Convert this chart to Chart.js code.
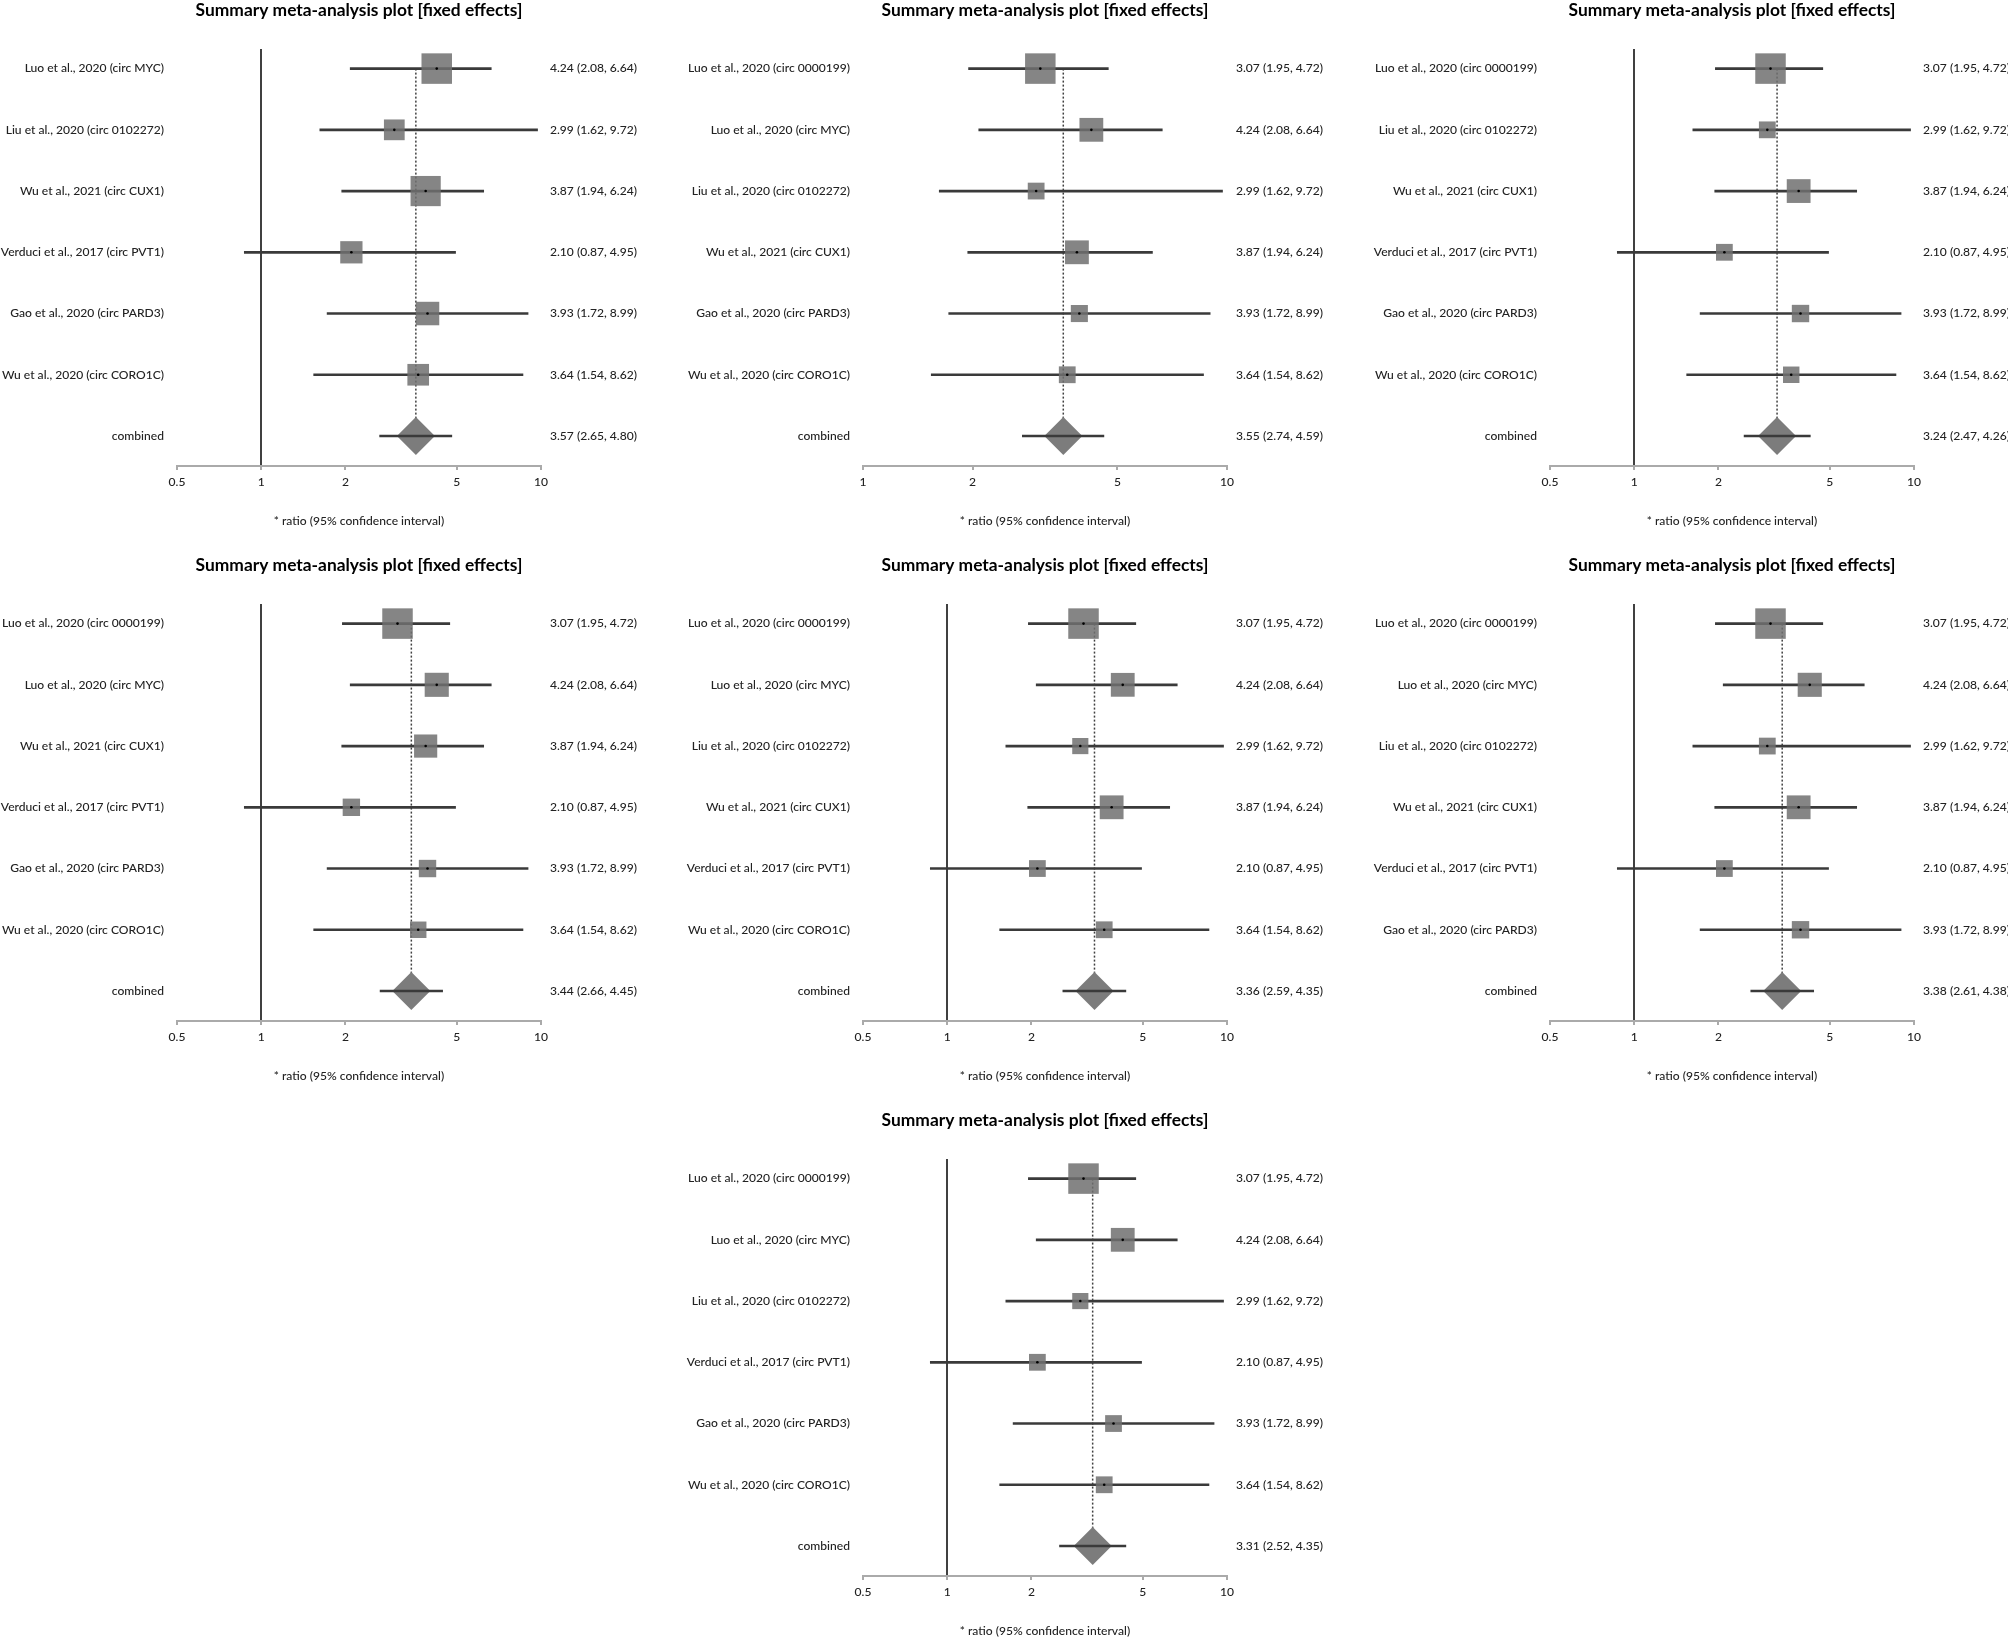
<!DOCTYPE html>
<html>
<head>
<meta charset="utf-8">
<script src="https://cdn.jsdelivr.net/npm/chart.js@4.4.1/dist/chart.umd.min.js"></script>
<style>
  html, body { margin: 0; padding: 0; background: #fff; overflow: hidden; }
  #page { position: relative; width: 2008px; height: 1641px; overflow: hidden; }
  canvas { position: absolute; }
</style>
</head>
<body>
<div id="page"></div>
<script>
// studies (same estimates in every panel)
const studyLabels = [
  'Luo et al., 2020 (circ 0000199)',
  'Luo et al., 2020 (circ MYC)',
  'Liu et al., 2020 (circ 0102272)',
  'Wu et al., 2021 (circ CUX1)',
  'Verduci et al., 2017 (circ PVT1)',
  'Gao et al., 2020 (circ PARD3)',
  'Wu et al., 2020 (circ CORO1C)'
];
const studyEst = [3.07, 4.24, 2.99, 3.87, 2.10, 3.93, 3.64];
const studyLow = [1.95, 2.08, 1.62, 1.94, 0.87, 1.72, 1.54];
const studyHigh = [4.72, 6.64, 9.72, 6.24, 4.95, 8.99, 8.62];

// which studies each panel keeps (leave-one-out), top to bottom
const panelStudies = [
  [1, 2, 3, 4, 5, 6],
  [0, 1, 2, 3, 5, 6],
  [0, 2, 3, 4, 5, 6],
  [0, 1, 3, 4, 5, 6],
  [0, 1, 2, 3, 4, 6],
  [0, 1, 2, 3, 4, 5],
  [0, 1, 2, 4, 5, 6]
];
// relative box size (weight), largest = 1
const panelWeights = [
  [1, 0.68, 0.99, 0.73, 0.77, 0.71],
  [1, 0.78, 0.55, 0.78, 0.56, 0.55],
  [1, 0.55, 0.78, 0.55, 0.57, 0.54],
  [1, 0.79, 0.76, 0.57, 0.57, 0.54],
  [1, 0.78, 0.53, 0.78, 0.55, 0.55],
  [1, 0.79, 0.55, 0.78, 0.55, 0.57],
  [1, 0.78, 0.53, 0.55, 0.55, 0.55]
];
const combinedEst = [3.57, 3.55, 3.24, 3.44, 3.36, 3.38, 3.31];
const combinedLow = [2.65, 2.74, 2.47, 2.66, 2.59, 2.61, 2.52];
const combinedHigh = [4.80, 4.59, 4.26, 4.45, 4.35, 4.38, 4.35];
const panelMinX = [0.5, 1, 0.5, 0.5, 0.5, 0.5, 0.5];
const xTicks = [0.5, 1, 2, 5, 10];

const titleText = 'Summary meta-analysis plot [fixed effects]';
const axisText = '* ratio (95% confidence interval)';

// where each panel sits on the page
const spots = [[0, 0], [686, 0], [1373, 0], [0, 555], [686, 555], [1373, 555], [686, 1110]];
const W = 718, H = 530;
const BOX_SIDE = 30.5;
const FONT = 'Lato';
const TEXT = '#222';

// the original uses a narrow font, so size ours to the same text widths
function fitSize(text, weight, target) {
  const ctx = document.createElement('canvas').getContext('2d');
  ctx.font = `${weight} 100px ${FONT}`;
  return 100 * target / ctx.measureText(text).width;
}
const labelSize = fitSize('Gao et al., 2020 (circ PARD3)', '500', 154);
const titleSize = fitSize(titleText, 'bold', 327);

Chart.defaults.font.family = FONT;
Chart.defaults.font.weight = '500';
Chart.defaults.color = TEXT;

function buildPanel(p) {
  const ids = panelStudies[p];
  const names = ids.map(i => studyLabels[i]).concat(['combined']);
  const est = ids.map(i => studyEst[i]).concat([combinedEst[p]]);
  const low = ids.map(i => studyLow[i]).concat([combinedLow[p]]);
  const high = ids.map(i => studyHigh[i]).concat([combinedHigh[p]]);
  const right = est.map((e, k) => `${e.toFixed(2)} (${low[k].toFixed(2)}, ${high[k].toFixed(2)})`);
  const rows = names.map((_, k) => k);
  const n = ids.length;

  const cv = document.createElement('canvas');
  cv.width = W; cv.height = H;
  cv.style.left = spots[p][0] + 'px';
  cv.style.top = spots[p][1] + 'px';
  cv.style.width = W + 'px';
  cv.style.height = H + 'px';
  document.getElementById('page').appendChild(cv);

  const rowAxis = (position, labels, pad) => ({
    type: 'linear',
    position: position,
    reverse: true,
    offset: false,
    min: -0.32,
    max: 6.49,
    bounds: 'data',
    grid: { display: false, drawTicks: false, offset: false },
    border: { display: false },
    afterBuildTicks: s => { s.ticks = rows.map(v => ({ value: v })); },
    afterFit: s => { s.width = 177; },
    ticks: {
      padding: pad,
      autoSkip: false,
      color: TEXT,
      font: { size: labelSize, weight: '500' },
      callback: v => labels[v]
    }
  });

  return new Chart(cv, {
    type: 'scatter',
    data: {
      datasets: [
        {
          // confidence intervals
          type: 'bar',
          indexAxis: 'y',
          data: rows.map(k => ({ x: [low[k], high[k]], y: k })),
          backgroundColor: '#3a3a3a',
          borderWidth: 0,
          barThickness: 2,
          order: 1
        },
        {
          // study boxes
          data: rows.slice(0, n).map(k => ({ x: est[k], y: k })),
          pointStyle: 'rect',
          pointRadius: panelWeights[p].map(w => w * BOX_SIDE / Math.SQRT2),
          pointBackgroundColor: 'rgba(112,112,112,0.85)',
          pointBorderWidth: 0,
          order: 0
        },
        {
          // pooled estimate
          data: [{ x: combinedEst[p], y: n }],
          pointStyle: 'rectRot',
          pointRadius: 19,
          pointBackgroundColor: '#7c7c7c',
          pointBorderWidth: 0,
          order: 2
        },
        {
          // pooled estimate reference line
          type: 'line',
          data: [{ x: combinedEst[p], y: 0 }, { x: combinedEst[p], y: n }],
          borderColor: '#404040',
          borderWidth: 1.5,
          borderDash: [2, 2],
          pointRadius: 0,
          order: 3
        },
        {
          // centre dots
          data: rows.slice(0, n).map(k => ({ x: est[k], y: k })),
          pointStyle: 'circle',
          pointRadius: 1.3,
          pointBackgroundColor: '#000',
          pointBorderWidth: 0,
          order: -1
        }
      ]
    },
    options: {
      responsive: false,
      animation: false,
      events: [],
      layout: { padding: 0 },
      plugins: {
        legend: { display: false },
        tooltip: { enabled: false },
        title: {
          display: true,
          text: titleText,
          color: '#000',
          font: { size: titleSize, weight: 'bold' },
          padding: { top: 0, bottom: 49 - titleSize * 1.2 }
        }
      },
      scales: {
        x: {
          type: 'logarithmic',
          min: panelMinX[p],
          max: 10,
          afterBuildTicks: s => {
            s.ticks = xTicks.filter(v => v >= panelMinX[p]).map(v => ({ value: v }));
          },
          afterFit: s => { s.height = 64; },
          grid: {
            color: c => (c.tick && c.tick.value === 1 && panelMinX[p] < 1) ? '#404040' : 'rgba(0,0,0,0)',
            lineWidth: 2,
            tickColor: '#aaa',
            tickLength: 4
          },
          border: { display: true, color: '#aaa', width: 2 },
          ticks: {
            color: TEXT,
            padding: 12 - labelSize * 0.6,
            autoSkip: false,
            maxRotation: 0,
            font: { size: labelSize, weight: '500' },
            callback: v => String(v)
          },
          title: {
            display: true,
            text: axisText,
            color: TEXT,
            font: { size: labelSize, weight: '500' },
            padding: { top: 0, bottom: 9 - labelSize * 0.6 }
          }
        },
        y: rowAxis('left', names, 13),
        y2: rowAxis('right', right, 9)
      }
    }
  });
}

panelStudies.forEach((_, p) => buildPanel(p));
</script>
</body>
</html>
